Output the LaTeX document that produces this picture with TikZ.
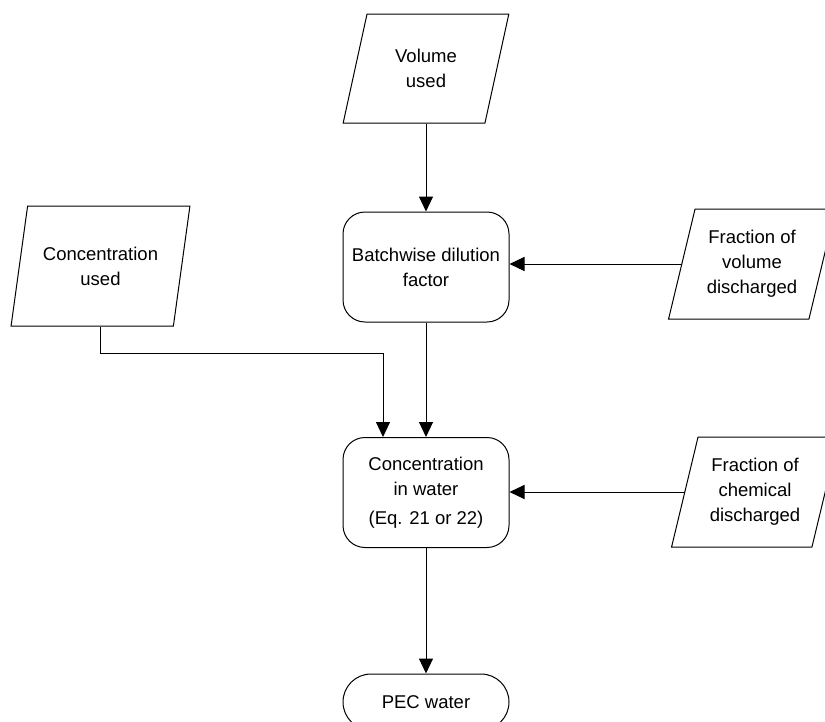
\documentclass[tikz,border=0pt]{standalone}
\usepackage{fontspec}
\setmainfont{Liberation Sans}
\usetikzlibrary{positioning,arrows.meta,shapes.geometric}

\begin{document}
\begin{tikzpicture}[x=1pt, y=-1pt,
      dato/.style={trapezium, trapezium left angle=73, trapezium right angle=107,
                   trapezium stretches=true, draw, line width=1pt,
                   minimum width=166pt, minimum height=109pt, align=center},
      paso/.style={rectangle, rounded corners=22pt, draw, line width=1pt,
                   minimum width=166pt, minimum height=110pt, align=center},
      flecha/.style={-{Triangle[length=15pt,width=14pt]}, line width=1pt},
      every node/.style={font=\fontsize{18.5}{25}\selectfont}]
    \useasboundingbox (0,0) rectangle (825,721);
    \clip (0,0) rectangle (825,721);
    \node[dato] (vol) at (426,68.5) {Volume\\ used};
    \node[dato, minimum width=179pt, minimum height=120pt] (cused) at (100.5,266) {Concentration\\ used};
    \node[paso] (batch) at (426,267) {Batchwise dilution\\ factor};
    \node[dato, minimum width=167pt, minimum height=110pt] (fvol) at (752,264) {Fraction of\\ volume\\ discharged};
    \node[paso] (cwater) at (426,492.5) {Concentration\\ in water\\[4pt] (Eq. 21 or 22)};
    \node[dato, minimum width=167pt, minimum height=110pt] (fchem) at (755,492) {Fraction of\\ chemical\\ discharged};
    \node[paso, rounded corners=28pt, minimum height=56pt] (pec) at (426,702) {PEC water};
    \coordinate (codo) at (383,353);
    \draw[flecha] (vol) -- (batch);
    \draw[flecha] (fvol.west) -- (fvol.west -| batch.east);
    \draw[flecha] (cused.south) |- (codo) -- (codo |- cwater.north);
    \draw[flecha] (batch) -- (cwater);
    \draw[flecha] (fchem.west) -- (fchem.west -| cwater.east);
    \draw[flecha] (cwater) -- (pec);
  \end{tikzpicture}
\end{document}
